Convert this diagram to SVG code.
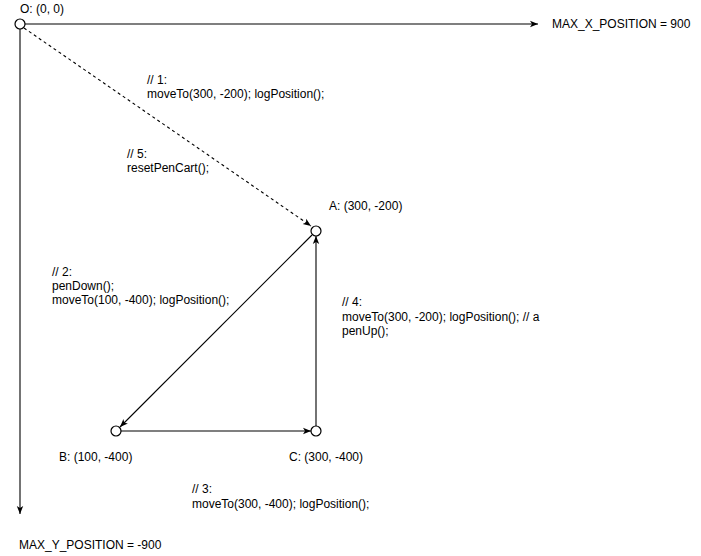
<svg xmlns="http://www.w3.org/2000/svg" width="701" height="556" viewBox="0 0 701 556">
<style>
text{font-family:"Liberation Sans",Arial,sans-serif;font-size:12px;fill:#000}
.n{fill:#fff;stroke:#000;stroke-width:1.2}
.e{fill:none;stroke:#000;stroke-width:1.1}
.d{stroke-dasharray:3,3}
</style>
<defs>
<marker id="ar" viewBox="0 0 10 10" refX="10" refY="5" markerWidth="8" markerHeight="8" markerUnits="userSpaceOnUse" orient="auto">
<path d="M0,1 L10,5 L0,9 L2.5,5 Z" fill="#000"/>
</marker>
</defs>
<rect width="701" height="556" fill="#fff"/>
<g id="connectors">
<line class="e" x1="25" y1="24" x2="538" y2="24" marker-end="url(#ar)"/>
<line class="e" x1="20" y1="29" x2="20" y2="514" marker-end="url(#ar)"/>
<line class="e d" x1="24" y1="28" x2="311" y2="226" marker-end="url(#ar)"/>
<line class="e" x1="312" y1="235" x2="120" y2="427" marker-end="url(#ar)"/>
<line class="e" x1="121" y1="431" x2="311" y2="431" marker-end="url(#ar)"/>
<line class="e" x1="316" y1="426" x2="316" y2="236" marker-end="url(#ar)"/>
</g>
<g id="O"><circle class="n" cx="20" cy="24" r="5"/><text x="20" y="13">O: (0, 0)</text></g>
<g id="A"><circle class="n" cx="316" cy="231" r="5"/><text x="329" y="210">A: (300, -200)</text></g>
<g id="B"><circle class="n" cx="116" cy="431" r="5"/><text x="59" y="461">B: (100, -400)</text></g>
<g id="C"><circle class="n" cx="316" cy="431" r="5"/><text x="289" y="461">C: (300, -400)</text></g>
<g id="maxX"><text x="552" y="28">MAX_X_POSITION = 900</text></g>
<g id="maxY"><text x="19" y="549">MAX_Y_POSITION = -900</text></g>
<g id="labels">
<text x="147" y="84">// 1:</text>
<text x="147" y="98">moveTo(300, -200); logPosition();</text>
<text x="127" y="158">// 5:</text>
<text x="127" y="172">resetPenCart();</text>
<text x="52" y="276">// 2:</text>
<text x="52" y="290">penDown();</text>
<text x="52" y="304">moveTo(100, -400); logPosition();</text>
<text x="342" y="306">// 4:</text>
<text x="342" y="321">moveTo(300, -200); logPosition(); // a</text>
<text x="342" y="335">penUp();</text>
<text x="192" y="493">// 3:</text>
<text x="192" y="508">moveTo(300, -400); logPosition();</text>
</g>
</svg>
